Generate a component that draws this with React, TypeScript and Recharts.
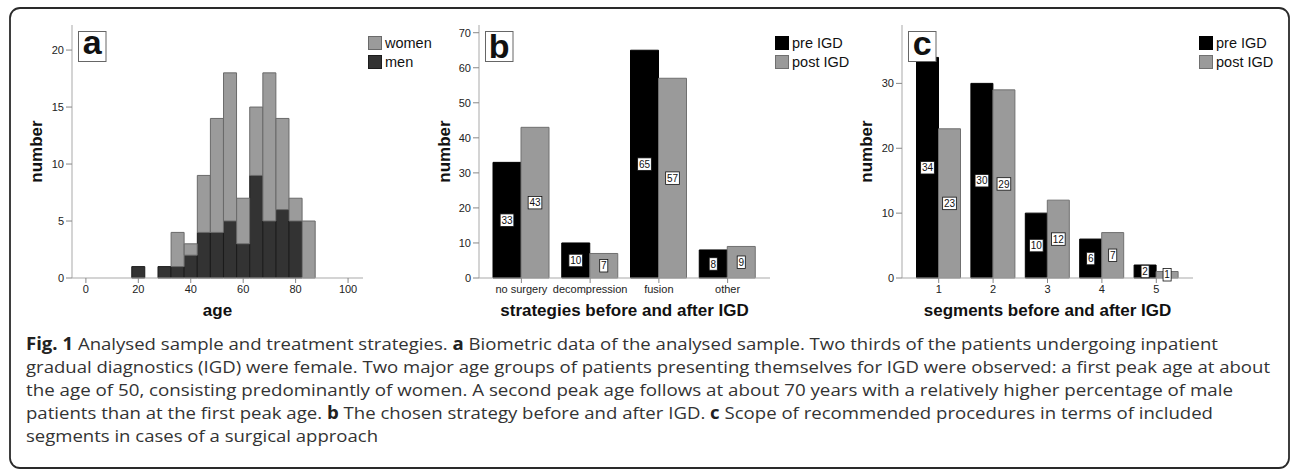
import React from "react";
import { Bar, BarChart, LabelList, Legend, XAxis, YAxis } from "recharts";

// panel a: age histogram (bin centres, width 5)
const ageBins = [20, 25, 30, 35, 40, 45, 50, 55, 60, 65, 70, 75, 80, 85];
const menCounts = [1, 0, 1, 1, 2, 4, 4, 5, 3, 9, 5, 6, 5, 0];
const womenCounts = [0, 0, 0, 3, 1, 5, 10, 13, 4, 6, 13, 8, 2, 5];
const ageTicks = [0, 20, 40, 60, 80, 100];
const ageCountTicks = [0, 5, 10, 15, 20];

// panel b: strategies
const strategies = ["no surgery", "decompression", "fusion", "other"];
const strategyPre = [33, 10, 65, 8];
const strategyPost = [43, 7, 57, 9];
const strategyTicks = [0, 10, 20, 30, 40, 50, 60, 70];

// panel c: segments
const segments = ["1", "2", "3", "4", "5"];
const segmentPre = [34, 30, 10, 6, 2];
const segmentPost = [23, 29, 12, 7, 1];
const segmentTicks = [0, 10, 20, 30];

const captionLines = [
  [["Fig. 1", true], [" Analysed sample and treatment strategies. ", false], ["a", true], [" Biometric data of the analysed sample. Two thirds of the patients undergoing inpatient", false]],
  [["gradual diagnostics (IGD) were female. Two major age groups of patients presenting themselves for IGD were observed: a first peak age at about", false]],
  [["the age of 50, consisting predominantly of women. A second peak age follows at about 70 years with a relatively higher percentage of male", false]],
  [["patients than at the first peak age. ", false], ["b", true], [" The chosen strategy before and after IGD. ", false], ["c", true], [" Scope of recommended procedures in terms of included", false]],
  [["segments in cases of a surgical approach", false]],
] as [string, boolean][][];
const captionWidths = [1192, 1244, 1207, 1187, 352];

const ageData = ageBins.map((age, i) => ({ age, men: menCounts[i], women: womenCounts[i] }));
const strategyData = strategies.map((name, i) => ({ name, pre: strategyPre[i], post: strategyPost[i] }));
const segmentData = segments.map((name, i) => ({ name, pre: segmentPre[i], post: segmentPost[i] }));

const FONT = "'Liberation Sans', Arial, sans-serif";
const FRAME = "#a9a9a9";
const TICK = { fontSize: 11, fill: "#222", fontFamily: FONT };

const AGE_MIN = -5.3;
const AGE_MAX = 105.7;
const PLOT_W = 291;
const ageBarSize = (PLOT_W / (AGE_MAX - AGE_MIN)) * 5 - 0.1;

const yTitle = (x: number) => (props: any) => {
  const vb = props.viewBox || {};
  const cy = (vb.y || 0) + (vb.height || 0) / 2;
  return (
    <text x={x} y={cy} transform={`rotate(-90 ${x} ${cy})`} textAnchor="middle" dominantBaseline="central"
      fontSize={17} fontWeight="bold" fill="#111" fontFamily={FONT}>number</text>
  );
};

const xTitle = (text: string) => (props: any) => {
  const vb = props.viewBox || {};
  return (
    <text x={(vb.x || 0) + (vb.width || 0) / 2} y={(vb.y || 0) + 38} textAnchor="middle"
      fontSize={17} fontWeight="bold" fill="#111" fontFamily={FONT}>{text}</text>
  );
};

const ValueTag = (props: any) => {
  const vb = props.viewBox || props;
  const cx = vb.x + vb.width / 2;
  const cy = vb.y + vb.height / 2;
  const w = String(props.value).length * 5.6 + 2.5;
  const h = 12.5;
  return (
    <g>
      <rect x={cx - w / 2} y={cy - h / 2} width={w} height={h} fill="#fff" stroke="#111" strokeWidth={0.8} />
      <text x={cx} y={cy} dy="0.36em" textAnchor="middle" fontSize={10} fill="#111" fontFamily={FONT}>{props.value}</text>
    </g>
  );
};

type Item = { label: string; fill: string; stroke: string };
const LegendBox = ({ items }: { items: Item[] }) => (
  <div style={{ whiteSpace: "nowrap", fontFamily: FONT, width: 90 }}>
    {items.map((it) => (
      <div key={it.label} style={{ display: "flex", alignItems: "center", height: 19 }}>
        <span style={{ display: "inline-block", flex: "0 0 14px", width: 14, height: 14, boxSizing: "border-box", background: it.fill, border: `1px solid ${it.stroke}` }} />
        <span style={{ marginLeft: 3, fontSize: 14.5, color: "#111" }}>{it.label}</span>
      </div>
    ))}
  </div>
);

const preItems: Item[] = [
  { label: "pre IGD", fill: "#000", stroke: "#000" },
  { label: "post IGD", fill: "#9a9a9a", stroke: "#707070" },
];
const ageItems: Item[] = [
  { label: "women", fill: "#9b9b9b", stroke: "#6a6a6a" },
  { label: "men", fill: "#333", stroke: "#1c1c1c" },
];

const legendWrap = (left: number) => ({ position: "absolute" as const, left, top: 33, width: 0, height: 0, overflow: "visible" });

const frameAxes = () => [
  <XAxis key="top" xAxisId="top" orientation="top" height={0} tick={false} tickLine={false} axisLine={{ stroke: FRAME }} />,
  <YAxis key="right" yAxisId="right" orientation="right" width={0} tick={false} tickLine={false} axisLine={{ stroke: FRAME }} />,
];

function AgeChart() {
  return (
    <BarChart width={430} height={330} data={ageData} margin={{ top: 25, right: 67, bottom: 22, left: 0 }}
      barCategoryGap={0} barGap={0} style={{ fontFamily: FONT }}>
      <XAxis dataKey="age" type="number" domain={[AGE_MIN, AGE_MAX]} ticks={ageTicks} interval={0} height={30}
        tick={TICK} tickSize={5} tickLine={{ stroke: "#888" }} axisLine={{ stroke: FRAME }} label={{ content: xTitle("age") }} />
      <YAxis domain={[0, 22.2]} ticks={ageCountTicks} interval={0} width={72} tick={TICK} tickSize={6}
        tickLine={{ stroke: "#888" }} axisLine={{ stroke: FRAME }} label={{ content: yTitle(36) }} />
      {frameAxes()}
      <Legend content={() => <LegendBox items={ageItems} />} wrapperStyle={legendWrap(368)} />
      <Bar dataKey="men" name="men" stackId="s" fill="#333" stroke="#1c1c1c" strokeWidth={1} barSize={ageBarSize} isAnimationActive={false} />
      <Bar dataKey="women" name="women" stackId="s" fill="#9b9b9b" stroke="#6a6a6a" strokeWidth={1} barSize={ageBarSize} isAnimationActive={false} />
    </BarChart>
  );
}

function PairChart(p: { data: any[]; width: number; yWidth: number; right: number; max: number; ticks: number[]; pad: number; gap: number; title: string; titleX: number; legendLeft: number }) {
  return (
    <BarChart width={p.width} height={330} data={p.data} margin={{ top: 25, right: p.right, bottom: 22, left: 0 }}
      barCategoryGap={p.gap} barGap={0} style={{ fontFamily: FONT }}>
      <XAxis dataKey="name" padding={{ left: p.pad, right: p.pad }} interval={0} height={30} tick={TICK} tickSize={5}
        tickLine={{ stroke: "#888" }} axisLine={{ stroke: FRAME }} label={{ content: xTitle(p.title) }} />
      <YAxis domain={[0, p.max]} ticks={p.ticks} interval={0} width={p.yWidth} tick={TICK} tickSize={6}
        tickLine={{ stroke: "#888" }} axisLine={{ stroke: FRAME }} label={{ content: yTitle(p.titleX) }} />
      {frameAxes()}
      <Legend content={() => <LegendBox items={preItems} />} wrapperStyle={legendWrap(p.legendLeft)} />
      <Bar dataKey="pre" name="pre IGD" fill="#000" stroke="#000" strokeWidth={1} isAnimationActive={false}>
        <LabelList dataKey="pre" content={ValueTag} />
      </Bar>
      <Bar dataKey="post" name="post IGD" fill="#9a9a9a" stroke="#707070" strokeWidth={1} isAnimationActive={false}>
        <LabelList dataKey="post" content={ValueTag} />
      </Bar>
    </BarChart>
  );
}

const panelLetters = [
  { ch: "a", x: 78, base: 54 },
  { ch: "b", x: 485, base: 58 },
  { ch: "c", x: 908, base: 55 },
];

export default function App() {
  return (
    <div style={{ position: "absolute", left: 0, top: 0, width: 1292, height: 472, background: "#fff", overflow: "hidden" }}>
      <div style={{ position: "absolute", left: 0, top: 0 }}>
        <AgeChart />
      </div>
      <div style={{ position: "absolute", left: 420, top: 0 }}>
        <PairChart data={strategyData} width={440} yWidth={59} right={90} max={72.2} ticks={strategyTicks} pad={8} gap={6}
          title="strategies before and after IGD" titleX={24} legendLeft={355} />
      </div>
      <div style={{ position: "absolute", left: 848, top: 0 }}>
        <PairChart data={segmentData} width={444} yWidth={54} right={99} max={39} ticks={segmentTicks} pad={9.5} gap={5}
          title="segments before and after IGD" titleX={18} legendLeft={351} />
      </div>
      <svg width={1292} height={472} style={{ position: "absolute", left: 0, top: 0, pointerEvents: "none" }}>
        <rect x={10} y={8} width={1279} height={460} rx={10} fill="none" stroke="#2a2a2a" strokeWidth={1.8} />
        {panelLetters.map((l) => (
          <g key={l.ch}>
            <rect x={l.x + 0.5} y={31.5} width={27.5} height={30} fill="#fff" stroke="#666" strokeWidth={1} />
            <text x={l.x + 14.2} y={l.base} textAnchor="middle" fontSize={34} fontWeight="bold" fill="#111" fontFamily={FONT}>{l.ch}</text>
          </g>
        ))}
        {captionLines.map((line, i) => (
          <text key={i} x={26} y={350 + i * 23} fontSize={17} fill="#333" fontFamily="'Open Sans', sans-serif"
            textLength={captionWidths[i]} lengthAdjust="spacingAndGlyphs">
            {line.map(([t, b], j) => (
              <tspan key={j} fontWeight={b ? "bold" : "normal"} fill={b ? "#222" : "#333"}>{t}</tspan>
            ))}
          </text>
        ))}
      </svg>
    </div>
  );
}
